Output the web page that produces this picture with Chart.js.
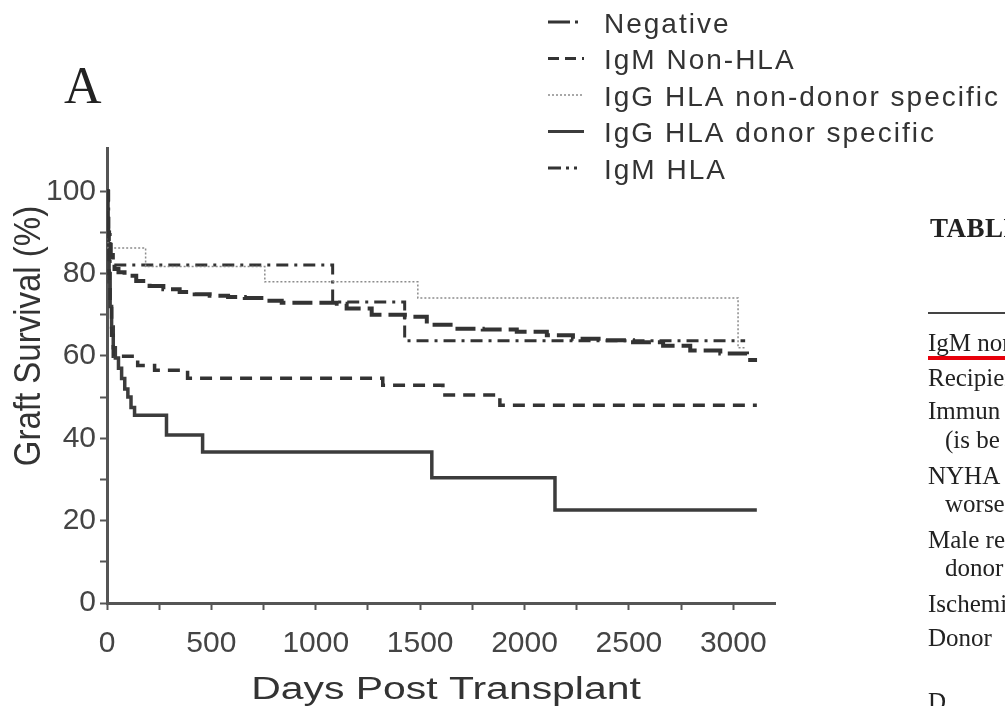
<!DOCTYPE html>
<html>
<head>
<meta charset="utf-8">
<title>Graft Survival</title>
<script src="https://cdn.jsdelivr.net/npm/chart.js@4.4.1/dist/chart.umd.min.js"></script>
<style>
  html, body { margin: 0; padding: 0; background: #fff; }
  #wrap { position: relative; width: 1005px; height: 706px; overflow: hidden; }
  #chart { position: absolute; left: 0; top: 0; }
  #panel { position: absolute; left: 64px; top: 60px; font: 52px/52px "Liberation Serif", "Times New Roman", serif; color: #222; }
  #tbl { position: absolute; left: 928px; top: 0; width: 77px; height: 706px; overflow: hidden; color: #222;
         font: 25px/24px "Liberation Serif", "Times New Roman", serif; }
  #tbl div { position: absolute; white-space: nowrap; }
  #tbl .head { font-weight: bold; font-size: 27px; line-height: 28px; letter-spacing: 0.5px; }
  #tbl .ind { left: 17px; }
  #tbl .rule { left: 0; width: 77px; height: 2px; background: #444; }
  #tbl .red { left: 0; width: 77px; height: 4px; background: #e8000b; }
</style>
</head>
<body>
<div id="wrap">
  <canvas id="chart" width="1005" height="706"></canvas>
  <div id="panel">A</div>
  <div id="tbl">
    <div class="head" style="top:214px; left:2px">TABLE</div>
    <div class="rule" style="top:312px"></div>
    <div style="top:331px">IgM non</div>
    <div class="red" style="top:356px"></div>
    <div style="top:366px">Recipien</div>
    <div style="top:399px">Immun</div>
    <div class="ind" style="top:428px">(is be</div>
    <div style="top:464px">NYHA</div>
    <div class="ind" style="top:492px">worse</div>
    <div style="top:528px">Male re</div>
    <div class="ind" style="top:556px">donor</div>
    <div style="top:592px">Ischemi</div>
    <div style="top:626px">Donor</div>
    <div style="top:690px">D</div>
  </div>
</div>
<script>
// Kaplan-Meier curves: day of each step and survival (%) after it
const seriesLabels = ["Negative", "IgM Non-HLA", "IgG HLA non-donor specific", "IgG HLA donor specific", "IgM HLA"];
const xTitle = "Days Post Transplant";
const yTitle = "Graft Survival (%)";

const negDays = [0, 3, 6, 10, 18, 28, 36, 55, 84, 140, 204, 270, 348, 420, 492, 580, 660, 760, 837, 1101, 1148, 1268, 1427, 1532, 1666, 1800, 1963, 2107, 2232, 2376, 2520, 2664, 2794, 2938, 3066, 3114];
const negSurv = [100, 94, 90, 87, 84.5, 82.5, 81.1, 80.3, 79.5, 78.2, 77.0, 76.2, 75.5, 75.0, 74.6, 74.3, 74.1, 73.4, 72.9, 72.7, 71.5, 70.0, 69.5, 67.6, 66.6, 66.4, 65.9, 65.0, 64.2, 63.8, 63.3, 62.5, 61.3, 60.6, 59.0, 59.0];

const igmNonHlaDays = [0, 5, 10, 15, 22, 30, 147, 228, 386, 1321, 1609, 1882, 3113];
const igmNonHlaSurv = [100, 90, 80, 72, 65, 59.9, 57.7, 56.5, 54.6, 52.9, 50.5, 48.0, 48.0];

const iggNonDsaDays = [0, 5, 185, 756, 1489, 3023, 3060];
const iggNonDsaSurv = [100, 86.2, 81.7, 78.0, 74.1, 62.0, 62.0];

const iggDsaDays = [0, 3, 6, 10, 15, 22, 30, 40, 55, 70, 85, 100, 115, 132, 285, 458, 1556, 2146, 3113];
const iggDsaSurv = [100, 92, 85, 78, 72, 67, 62, 59.5, 57, 54.5, 52, 50, 47.5, 45.6, 40.8, 36.7, 30.4, 22.6, 22.6];

const igmHlaDays = [0, 8, 15, 1081, 1426, 3057];
const igmHlaSurv = [100, 90, 82.1, 73.1, 63.7, 63.7];

const xTickValues = [0, 250, 500, 750, 1000, 1250, 1500, 1750, 2000, 2250, 2500, 2750, 3000];
const yTickValues = [0, 10, 20, 30, 40, 50, 60, 70, 80, 90, 100];

const FONT = '"Liberation Sans", Arial, Helvetica, sans-serif';

function points(days, surv) {
  return days.map((d, i) => ({ x: d, y: surv[i] }));
}

// legend and axis titles drawn by hand (the scan has wide lettering)
const extraText = {
  id: 'extraText',
  afterDraw(chart) {
    const ctx = chart.ctx;
    const area = chart.chartArea;

    ctx.save();
    ctx.font = '28px ' + FONT;
    ctx.letterSpacing = '2px';
    ctx.fillStyle = '#333';
    ctx.textBaseline = 'middle';
    chart.data.datasets.forEach((ds, row) => {
      const y = 25 + row * 36.5;
      ctx.strokeStyle = ds.borderColor;
      ctx.lineWidth = Math.min(ds.borderWidth, 3);
      ctx.setLineDash(ds.legendDash);
      ctx.beginPath();
      ctx.moveTo(548, y - 3);
      ctx.lineTo(584, y - 3);
      ctx.stroke();
      ctx.fillText(ds.label, 604, y);
    });
    ctx.restore();

    ctx.save();
    ctx.fillStyle = '#333';
    ctx.textAlign = 'center';
    ctx.textBaseline = 'middle';
    ctx.font = '31px ' + FONT;
    ctx.translate((area.left + area.right) / 2 + 5, 690);
    ctx.scale(1.32, 1);
    ctx.fillText(xTitle, 0, 0);
    ctx.restore();

    ctx.save();
    ctx.fillStyle = '#333';
    ctx.textAlign = 'center';
    ctx.textBaseline = 'middle';
    ctx.font = '33px ' + FONT;
    ctx.translate(30, 336);
    ctx.rotate(-Math.PI / 2);
    ctx.scale(1, 1.1);
    ctx.fillText(yTitle, 0, 0);
    ctx.restore();
  }
};

new Chart(document.getElementById('chart'), {
  type: 'scatter',
  data: {
    datasets: [
      { label: seriesLabels[0], data: points(negDays, negSurv), borderColor: '#333', borderWidth: 4, borderDash: [20, 7], legendDash: [22, 5, 3, 20] },
      { label: seriesLabels[1], data: points(igmNonHlaDays, igmNonHlaSurv), borderColor: '#333', borderWidth: 3.5, borderDash: [12, 8], legendDash: [11, 6] },
      { label: seriesLabels[2], data: points(iggNonDsaDays, iggNonDsaSurv), borderColor: '#8c8c8c', borderWidth: 1.5, borderDash: [2, 2], legendDash: [2, 2] },
      { label: seriesLabels[3], data: points(iggDsaDays, iggDsaSurv), borderColor: '#3c3c3c', borderWidth: 3.5, borderDash: [], legendDash: [] },
      { label: seriesLabels[4], data: points(igmHlaDays, igmHlaSurv), borderColor: '#333', borderWidth: 3, borderDash: [12, 6, 3, 6], legendDash: [13, 5, 3, 5, 3, 20] }
    ].map(ds => Object.assign(ds, { showLine: true, stepped: true, pointRadius: 0, fill: false }))
  },
  options: {
    responsive: false,
    animation: false,
    devicePixelRatio: 1,
    layout: { padding: { left: 10, right: 230, top: 148, bottom: 0 } },
    plugins: { legend: { display: false }, tooltip: { enabled: false } },
    scales: {
      x: {
        type: 'linear',
        min: 0,
        max: 3200,
        afterBuildTicks: axis => { axis.ticks = xTickValues.map(v => ({ value: v })); },
        afterFit: scale => { scale.height = 103; },
        ticks: {
          autoSkip: false,
          maxRotation: 0,
          padding: 16,
          color: '#444',
          font: { family: FONT, size: 30 },
          callback: v => (v % 500 === 0 ? String(v) : '')
        },
        grid: { drawOnChartArea: false, drawTicks: true, tickLength: 7, tickWidth: 2, tickColor: '#555' },
        border: { display: true, color: '#555', width: 3 },
        title: { display: false }
      },
      y: {
        min: 0,
        max: 110.5,
        afterBuildTicks: axis => { axis.ticks = yTickValues.map(v => ({ value: v })); },
        afterFit: scale => { scale.width = 97; },
        ticks: {
          padding: 4,
          color: '#444',
          font: { family: FONT, size: 30 },
          callback: v => (v % 20 === 0 ? String(v) : '')
        },
        grid: { drawOnChartArea: false, drawTicks: true, tickLength: 7, tickWidth: 2, tickColor: '#555' },
        border: { display: true, color: '#555', width: 3 },
        title: { display: false }
      }
    }
  },
  plugins: [extraText]
});
</script>
</body>
</html>
